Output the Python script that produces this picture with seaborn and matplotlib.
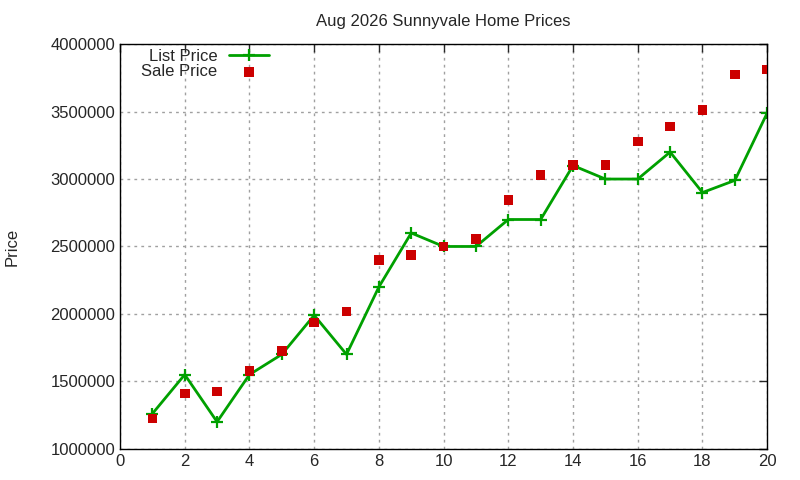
import numpy as np
import pandas as pd
import matplotlib
matplotlib.use('Agg')
import matplotlib.pyplot as plt
import seaborn as sns

# data
months = list(range(1, 21))
list_price = [1260000, 1550000, 1200000, 1550000, 1700000, 1990000, 1700000, 2200000, 2600000, 2500000,
              2500000, 2700000, 2700000, 3100000, 3000000, 3000000, 3200000, 2900000, 2990000, 3490000]
sale_price = [1225000, 1410000, 1425000, 1578000, 1726000, 1936000, 2017000, 2402000, 2437000, 2500000,
              2556000, 2845000, 3030000, 3105000, 3105000, 3279000, 3390000, 3510000, 3776000, 3813000]

df = pd.DataFrame({'x': months, 'List Price': list_price, 'Sale Price': sale_price})

sns.set_style('white')
plt.rcParams['font.family'] = ['Liberation Sans', 'DejaVu Sans']
plt.rcParams['font.size'] = 12

fig = plt.figure(figsize=(8, 4.8), dpi=100)
ax = fig.add_axes([0.15, 0.065, 0.809, 0.843])

green = '#00a000'
sns.lineplot(data=df, x='x', y='List Price', ax=ax, color=green, linewidth=2,
             marker='+', markersize=8, markeredgewidth=1.6, markeredgecolor=green,
             markerfacecolor=green, label='List Price')
sns.scatterplot(data=df, x='x', y='Sale Price', ax=ax, color='#cc0000', marker='s',
                s=48, edgecolor='none', label='Sale Price', zorder=3)

ax.set_xlim(0, 20)
ax.set_ylim(1000000, 4000000)
ax.set_xticks(range(0, 21, 2))
ax.set_yticks(range(1000000, 4000001, 500000))
ax.set_yticklabels([str(v) for v in range(1000000, 4000001, 500000)])
ax.grid(True, color='#a0a0a0', linestyle=(0, (2, 3)), linewidth=1)
ax.tick_params(direction='in', length=6, top=True, right=True, labelsize=12, width=1)
for s in ax.spines.values():
    s.set_color('black')
    s.set_linewidth(1)

ax.set_xlabel('')
ax.set_ylabel('Price', fontsize=12, labelpad=22)
ax.set_title('Aug 2026 Sunnyvale Home Prices', fontsize=12, pad=13)

ax.legend(loc='upper left', bbox_to_anchor=(0.02, 1.008), markerfirst=False, frameon=False,
          fontsize=12, handlelength=2.4, handletextpad=0.7, labelspacing=0.0, borderpad=0.0)

fig.savefig('out.png', dpi=100)
